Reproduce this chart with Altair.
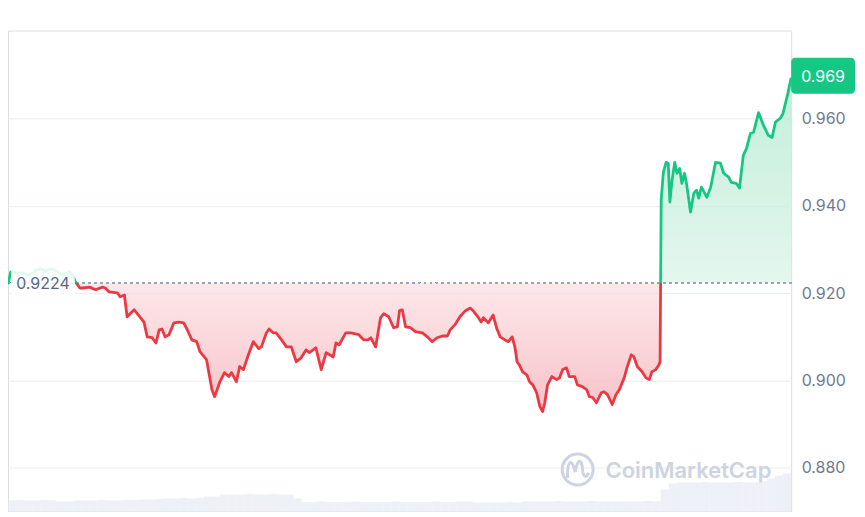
import altair as alt
import pandas as pd

# ---- data (24h price chart, minutes since start) ----
minutes = [
    0, 5, 9, 18, 27, 37, 46, 51, 60, 69,
    79, 86, 95, 104, 113, 119, 124, 132, 137, 150,
    161, 174, 179, 186, 201, 206, 214, 219, 232, 241,
    250, 256, 265, 272, 278, 283, 289, 296, 305, 314,
    323, 329, 338, 347, 353, 365, 375, 380, 389, 398,
    406, 411, 420, 426, 433, 442, 451, 461, 466, 475,
    480, 488, 493, 503, 512, 521, 530, 539, 548, 554,
    566, 576, 585, 598, 603, 609, 621, 630, 645, 654,
    662, 667, 676, 685, 691, 700, 709, 716, 720, 725,
    731, 740, 749, 762, 771, 780, 789, 799, 808, 813,
    822, 831, 841, 850, 855, 864, 870, 874, 883, 892,
    899, 905, 914, 920, 927, 932, 936, 941, 946, 954,
    959, 965, 972, 978, 983, 987, 992, 1000, 1009, 1014,
    1020, 1027, 1032, 1042, 1047, 1056, 1064, 1069, 1075, 1082,
    1091, 1096, 1102, 1111, 1118, 1124, 1133, 1138, 1146, 1151,
    1157, 1166, 1173, 1179, 1184, 1191, 1197, 1199, 1201, 1205,
    1210, 1214, 1217, 1221, 1226, 1230, 1235, 1239, 1244, 1248,
    1255, 1261, 1266, 1270, 1275, 1285, 1292, 1301, 1310, 1316,
    1325, 1330, 1339, 1345, 1352, 1358, 1365, 1371, 1380, 1389,
    1398, 1405, 1411, 1420, 1425, 1434, 1440,
]
prices = [
    0.9221, 0.9249, 0.9249, 0.9246, 0.9246, 0.9242, 0.9246, 0.9253, 0.9256, 0.9251,
    0.9256, 0.9253, 0.9246, 0.9242, 0.9249, 0.9242, 0.9226, 0.9212, 0.9212, 0.9214,
    0.9208, 0.9214, 0.9212, 0.9203, 0.9201, 0.9192, 0.9196, 0.9146, 0.9162, 0.9148,
    0.9134, 0.9100, 0.9098, 0.9086, 0.9116, 0.9118, 0.9100, 0.9105, 0.9132, 0.9134,
    0.9132, 0.9118, 0.9093, 0.9089, 0.9066, 0.9048, 0.8979, 0.8963, 0.8995, 0.9018,
    0.9009, 0.9018, 0.8997, 0.9032, 0.9025, 0.9059, 0.9089, 0.9073, 0.9077, 0.9109,
    0.9118, 0.9109, 0.9109, 0.9093, 0.9077, 0.9077, 0.9043, 0.9052, 0.9070, 0.9064,
    0.9075, 0.9025, 0.9064, 0.9054, 0.9086, 0.9082, 0.9109, 0.9109, 0.9105, 0.9093,
    0.9093, 0.9098, 0.9077, 0.9144, 0.9153, 0.9146, 0.9121, 0.9123, 0.9160, 0.9162,
    0.9123, 0.9121, 0.9112, 0.9109, 0.9100, 0.9089, 0.9098, 0.9102, 0.9102, 0.9116,
    0.9128, 0.9146, 0.9160, 0.9166, 0.9160, 0.9146, 0.9134, 0.9144, 0.9132, 0.9150,
    0.9118, 0.9100, 0.9093, 0.9089, 0.9100, 0.9077, 0.9043, 0.9034, 0.9020, 0.9013,
    0.8997, 0.8990, 0.8972, 0.8940, 0.8929, 0.8949, 0.8990, 0.9009, 0.9002, 0.9006,
    0.9025, 0.9029, 0.9009, 0.9009, 0.8990, 0.8986, 0.8979, 0.8963, 0.8961, 0.8949,
    0.8972, 0.8974, 0.8968, 0.8945, 0.8968, 0.8979, 0.9006, 0.9029, 0.9059, 0.9054,
    0.9032, 0.9020, 0.9006, 0.9002, 0.9020, 0.9025, 0.9036, 0.9043, 0.9413, 0.9477,
    0.9500, 0.9498, 0.9409, 0.9459, 0.9500, 0.9475, 0.9486, 0.9452, 0.9475, 0.9448,
    0.9386, 0.9429, 0.9436, 0.9418, 0.9443, 0.9420, 0.9443, 0.9500, 0.9498, 0.9475,
    0.9466, 0.9454, 0.9452, 0.9441, 0.9516, 0.9532, 0.9566, 0.9569, 0.9614, 0.9585,
    0.9562, 0.9557, 0.9592, 0.9601, 0.9612, 0.9658, 0.9694,
]
assert len(minutes) == len(prices)

baseline_price = 0.9224
baseline_label = "0.9224"
current_label = "0.969"
y_ticks = [0.88, 0.90, 0.92, 0.94, 0.96]

# volume (millions), one bar per 15 minutes
volumes = [
    1.10, 1.15, 1.10, 1.10, 1.15, 1.10, 1.00, 1.00, 1.10, 1.10,
    1.10, 1.15, 1.10, 1.10, 1.15, 1.15, 1.20, 1.20, 1.25, 1.30,
    1.30, 1.35, 1.30, 1.35, 1.50, 1.50, 1.70, 1.70, 1.70, 1.75,
    1.70, 1.70, 1.75, 1.70, 1.70, 1.30, 0.95, 0.95, 1.00, 0.95,
    0.95, 0.95, 1.00, 0.95, 0.95, 0.95, 0.95, 1.00, 0.95, 0.95,
    0.95, 0.95, 1.00, 0.95, 0.95, 1.00, 1.00, 0.90, 0.90, 0.90,
    0.90, 0.95, 0.90, 1.00, 1.00, 1.00, 1.00, 1.05, 1.00, 1.00,
    1.00, 1.05, 1.00, 1.00, 1.00, 1.00, 1.00, 1.00, 1.05, 1.00,
    2.20, 2.80, 2.90, 2.90, 2.90, 2.95, 2.90, 2.90, 2.90, 2.95,
    2.90, 2.90, 3.00, 3.30, 3.60, 3.80,
]
vol_interval = 15

# ---- tables ----
price_df = pd.DataFrame({"minute": minutes, "price": prices})
vol_df = pd.DataFrame({
    "start": [i * vol_interval for i in range(len(volumes))],
    "end": [(i + 1) * vol_interval for i in range(len(volumes))],
    "volume": volumes,
})
first_df = pd.DataFrame({"minute": [minutes[0]], "price": [baseline_price], "label": [baseline_label]})
last_df = pd.DataFrame({"minute": [minutes[-1]], "price": [prices[-1]], "label": [current_label]})

GREEN = "#16c784"
RED = "#ea3943"
FONT = "Inter"
WM = "#cdd3e0"

W, H = 785, 482
x_scale = alt.Scale(domain=[0, 1440], nice=False, zero=False)
y_scale = alt.Scale(domain=[0.87, 0.9802], nice=False, zero=False)

hi, lo = max(prices), min(prices)
off = (hi - baseline_price) / (hi - lo)

area_grad = alt.Gradient(
    gradient="linear", x1=0, y1=0, x2=0, y2=1,
    stops=[
        alt.GradientStop(color="#aee9ce", offset=0),
        alt.GradientStop(color="#dbf4e8", offset=off),
        alt.GradientStop(color="#fce0e3", offset=off),
        alt.GradientStop(color="#f4b0b7", offset=1),
    ],
)
line_grad = alt.Gradient(
    gradient="linear", x1=0, y1=0, x2=0, y2=1,
    stops=[
        alt.GradientStop(color=GREEN, offset=0),
        alt.GradientStop(color=GREEN, offset=off),
        alt.GradientStop(color=RED, offset=off),
        alt.GradientStop(color=RED, offset=1),
    ],
)

X = alt.X("minute:Q", scale=x_scale, axis=None)
Y = alt.Y("price:Q", scale=y_scale, axis=alt.Axis(
    orient="right", values=y_ticks, format=".3f", title=None,
    domain=False, ticks=False, labelPadding=10, labelFontSize=16,
    labelFont=FONT, labelColor="#6f7a8f", gridColor="#e9edf2", grid=True,
    labelBaseline="middle",
))

# volume layer (independent scale)
vol = alt.Chart(vol_df).mark_rect(color="#e7eaf4", opacity=0.7).encode(
    x=alt.X("start:Q", scale=x_scale, axis=None),
    x2="end:Q",
    y=alt.Y("volume:Q", scale=alt.Scale(domain=[0, 48.2], nice=False), axis=None),
    y2=alt.datum(0),
)

# price layers
area = alt.Chart(price_df).mark_area(fill=area_grad, opacity=0.75).encode(
    x=X, y=Y, y2=alt.datum(baseline_price)
)
base_rule = alt.Chart(price_df).mark_rule(
    color="#9ea6b5", strokeDash=[2, 4], strokeWidth=1
).encode(y=alt.Y(datum=baseline_price, scale=y_scale))
line = alt.Chart(price_df).mark_line(stroke=line_grad, strokeWidth=2.8, strokeJoin="round").encode(
    x=X, y=alt.Y("price:Q", scale=y_scale)
)

badge_path = ("M-0.875,-0.5625 H0.875 A0.125,0.125 0 0 1 1,-0.4375 V0.4375 "
              "A0.125,0.125 0 0 1 0.875,0.5625 H-0.875 A0.125,0.125 0 0 1 -1,0.4375 "
              "V-0.4375 A0.125,0.125 0 0 1 -0.875,-0.5625 Z")

base_box = alt.Chart(first_df).mark_point(
    shape=badge_path, size=4096, filled=True, fill="white", opacity=0.88, strokeWidth=0, xOffset=35
).encode(x=alt.X("minute:Q", scale=x_scale), y=alt.Y("price:Q", scale=y_scale))
base_text = alt.Chart(first_df).mark_text(
    font=FONT, fontSize=16, color="#58667e", align="center", baseline="middle", xOffset=35, dy=1
).encode(x=alt.X("minute:Q", scale=x_scale), y=alt.Y("price:Q", scale=y_scale), text="label:N")

cur_box = alt.Chart(last_df).mark_point(
    shape=badge_path, size=4096, filled=True, fill=GREEN, opacity=1, strokeWidth=0, xOffset=32, yOffset=-2
).encode(x=alt.X("minute:Q", scale=x_scale), y=alt.Y("price:Q", scale=y_scale))
cur_text = alt.Chart(last_df).mark_text(
    font=FONT, fontSize=16, color="white", align="center", baseline="middle", xOffset=32, dy=-1
).encode(x=alt.X("minute:Q", scale=x_scale), y=alt.Y("price:Q", scale=y_scale), text="label:N")

# watermark
wm_text = alt.Chart(last_df).mark_text(
    text="CoinMarketCap", font=FONT, fontSize=22, fontWeight=600, color=WM,
    align="left", baseline="alphabetic"
).encode(x=alt.value(599), y=alt.value(449))
wm_ring = alt.Chart(last_df).mark_point(
    shape="circle", size=960, filled=False, stroke=WM, strokeWidth=3, opacity=1
).encode(x=alt.value(571), y=alt.value(440))
wm_m = alt.Chart(last_df).mark_point(
    shape="M-0.6,0.5 C-0.6,-0.7 -0.3,-0.6 -0.15,0.15 C0,-0.7 0.25,-0.7 0.3,0.1 C0.35,0.5 0.55,0.45 0.65,0.2",
    size=1156, filled=False, stroke=WM, strokeWidth=3, opacity=1
).encode(x=alt.value(571), y=alt.value(440))

price_layers = alt.layer(area, base_rule, line, base_box, base_text, cur_box, cur_text,
                         wm_ring, wm_m, wm_text)

chart = alt.layer(vol, price_layers).resolve_scale(y="independent").properties(
    width=W, height=H,
    autosize=alt.AutoSizeParams(type="none"),
    padding={"left": 0, "top": 22, "right": 66, "bottom": 0},
).configure_view(stroke="#e9edf2", strokeWidth=1).configure(background="white")

chart.save("out.html", embed_options={"renderer": "svg", "actions": False})
